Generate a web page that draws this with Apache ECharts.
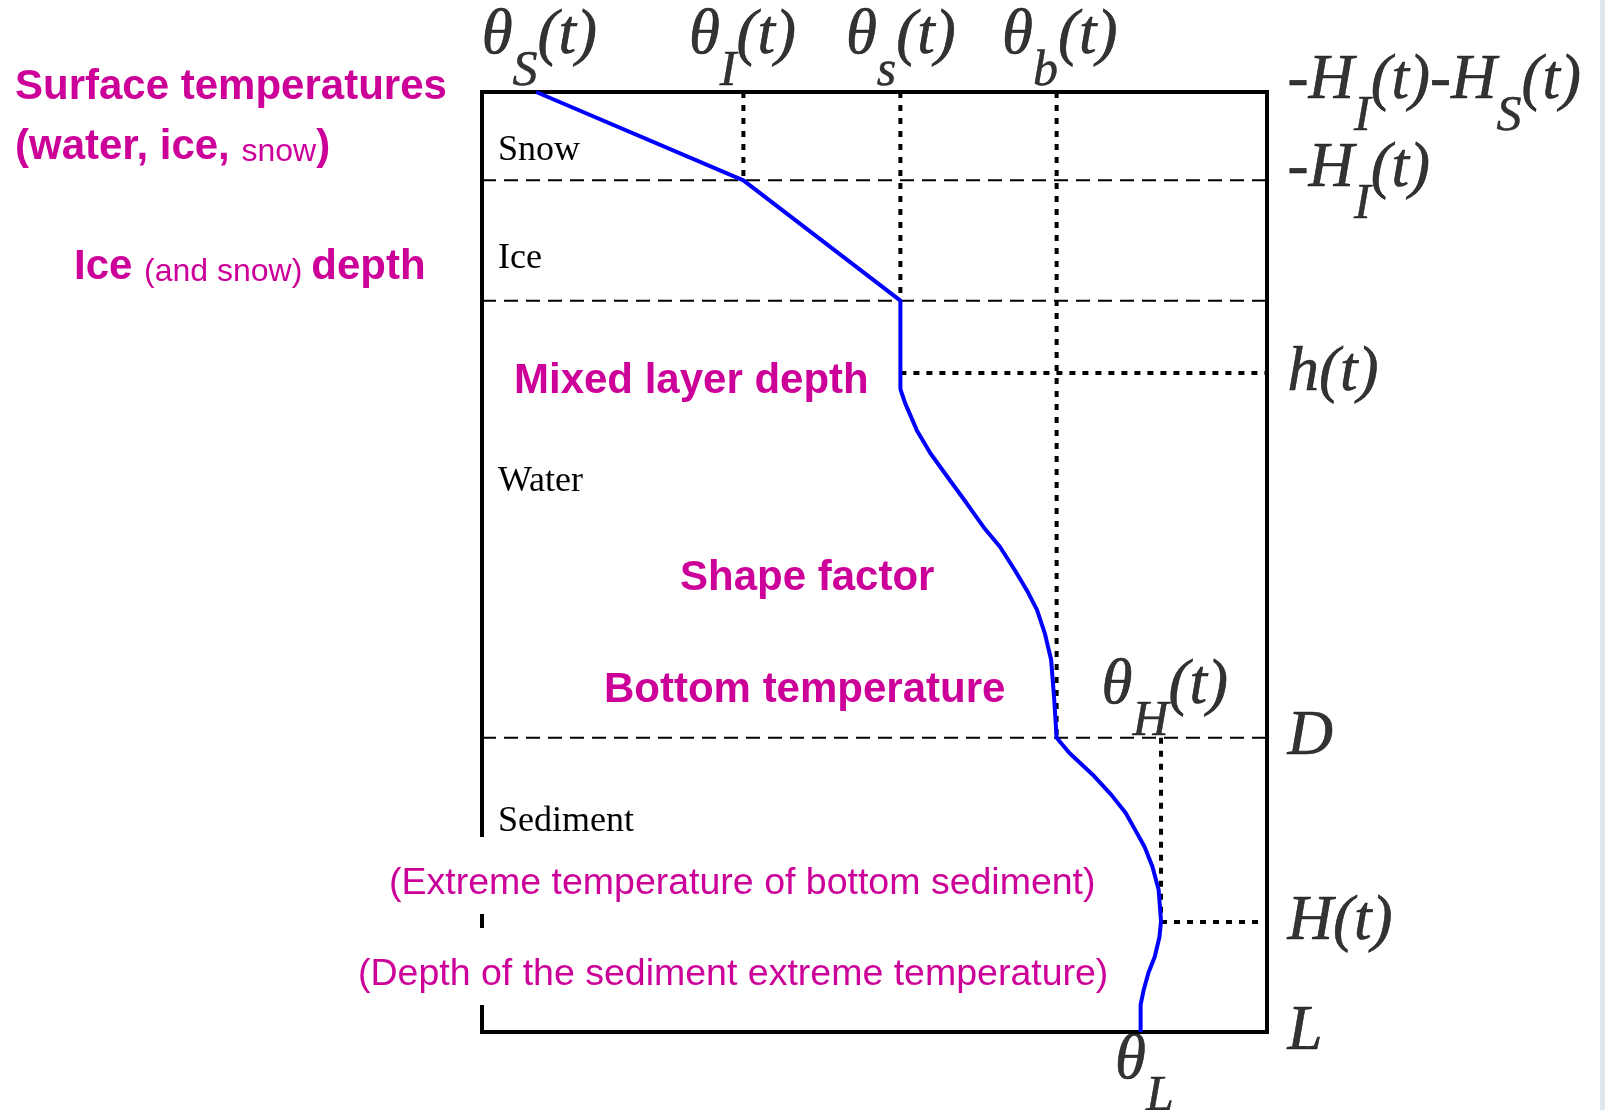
<!DOCTYPE html>
<html><head><meta charset="utf-8">
<script src="https://cdn.jsdelivr.net/npm/echarts@6/dist/echarts.min.js"></script>
<style>html,body{margin:0;padding:0;background:#fff}#c{width:1605px;height:1110px}</style>
</head><body><div id="c"></div>
<script>
// Temperature axis: arbitrary units 0..100 across the box; depth axis: 0 (snow surface) .. 100 (L)
const boundaryDepths = [9.4, 22.2, 68.7];           // snow/ice, ice/water, water/sediment (D)
const profileDepths = [0, 9.4, 22.2, 31.6, 33.1, 36.0, 38.4, 41.3, 43.7, 46.3, 48.4, 50.9, 53.0, 55.1, 57.6, 60.4, 64.7, 68.7,
                       70.3, 72.8, 74.8, 76.7, 78.5, 80.3, 82.4, 84.9, 88.2, 89.9, 92.0, 93.7, 95.5, 97.1, 100];
const profileTemps  = [6.9, 33.3, 53.3, 53.3, 53.9, 55.4, 57.1, 59.6, 61.7, 63.9, 66.0, 67.9, 69.4, 70.7, 71.7, 72.5, 72.9, 73.2,
                       74.8, 78.0, 80.2, 82.0, 83.2, 84.4, 85.4, 86.2, 86.5, 86.3, 85.7, 84.9, 84.3, 83.9, 83.9];
const topLabels = ['θ_S(t)', 'θ_I(t)', 'θ_s(t)', 'θ_b(t)'];
const topLabelTemps = [6.9, 33.3, 53.3, 73.2];
const guideTemps = [33.3, 53.3, 73.2, 86.5];        // dotted verticals θI, θs, θb, θH
const guideFrom  = [0, 0, 0, 68.7];
const guideTo    = [9.4, 22.2, 68.7, 88.3];
const levelDepths = [29.9, 88.3];                   // dotted horizontals h(t), H(t)
const levelFromTemps = [53.3, 86.5];
const rightLabels = ['-H_I(t)-H_S(t)', '-H_I(t)', 'h(t)', 'D', 'H(t)', 'L'];
const rightLabelDepths = [0, 9.4, 29.9, 68.7, 88.3, 100];
const thetaHLabel = 'θ_H(t)', thetaHPoint = [86.5, 68.7];
const thetaLLabel = 'θ_L',    thetaLPoint = [83.9, 100];
const layerNames = ['Snow', 'Ice', 'Water', 'Sediment'];

const PINK = '#CC0099';
function toRich(s) {
  return s.split(/_(.)/).map((p, i) => p === '' ? '' : (i % 2 ? '{s|' + p + '}' : '{m|' + p + '}')).join('');
}
const rich = {
  m: {fontFamily: 'Liberation Serif', fontStyle: 'italic', fontSize: 63, lineHeight: 62, verticalAlign: 'top', color: '#000',
      textBorderColor: '#000', textBorderWidth: 0.6},
  s: {fontFamily: 'Liberation Serif', fontStyle: 'italic', fontSize: 50, lineHeight: 50, padding: [42, 0, 0, 0], verticalAlign: 'top', color: '#000',
      textBorderColor: '#000', textBorderWidth: 0.5}
};
function labelSeries(points, texts, pos, vAlign) {
  return {
    type: 'scatter', symbolSize: 1, itemStyle: {color: 'rgba(0,0,0,0)'}, silent: true, z: 10,
    data: points.map((p, i) => ({value: p, name: texts[i]})),
    label: {show: true, position: pos, align: 'left', verticalAlign: vAlign, rich: rich, color: '#000',
            formatter: p => toRich(p.name)}
  };
}

const series = [];
boundaryDepths.forEach(d => series.push({
  type: 'line', symbol: 'none', silent: true, data: [[0, d], [100, d]],
  lineStyle: {color: '#000', width: 2, type: [14, 8]}
}));
guideTemps.forEach((t, i) => series.push({
  type: 'line', symbol: 'none', silent: true, data: [[t, guideFrom[i]], [t, guideTo[i]]],
  lineStyle: {color: '#000', width: 4, type: [6, 7]}
}));
levelDepths.forEach((d, i) => series.push({
  type: 'line', symbol: 'none', silent: true, data: [[levelFromTemps[i], d], [100, d]],
  lineStyle: {color: '#000', width: 4, type: [6, 7]}
}));
series.push({
  type: 'line', symbol: 'none', silent: true, z: 5,
  data: profileDepths.map((d, i) => [profileTemps[i], d]),
  lineStyle: {color: '#0000FF', width: 4}
});
series.push(labelSeries(topLabelTemps.map(t => [t, 0]), topLabels, [-54, -87], 'top'));
const subIdx = rightLabels.map((l, i) => l.includes('_') ? i : -1).filter(i => i >= 0);
const plainIdx = rightLabels.map((l, i) => l.includes('_') ? -1 : i).filter(i => i >= 0);
series.push(labelSeries(subIdx.map(i => [100, rightLabelDepths[i]]), subIdx.map(i => rightLabels[i]), [21, -42], 'top'));
series.push(labelSeries(plainIdx.map(i => [100, rightLabelDepths[i]]), plainIdx.map(i => rightLabels[i]), [21, 0], 'middle'));
series.push(labelSeries([thetaHPoint], [thetaHLabel], [-59, -82], 'top'));
series.push(labelSeries([thetaLPoint], [thetaLLabel], [-25, -2], 'top'));

const pinkBold = {fontFamily: 'Liberation Sans', fontWeight: 'bold', fontSize: 42, lineHeight: 42, fill: PINK, verticalAlign: 'bottom'};
const pinkReg = {fontFamily: 'Liberation Sans', fontSize: 32, lineHeight: 32, fill: PINK, verticalAlign: 'bottom'};
function txt(x, y, text, opts) {
  return Object.assign({type: 'text', x: x, y: y, z: 100, silent: true,
    style: Object.assign({text: text, align: 'left', verticalAlign: 'middle'}, opts)});
}
const layerY = [151, 259, 482, 822];
const graphic = [
  {type: 'rect', x: 1600, y: 0, shape: {width: 5, height: 1110}, style: {fill: '#e1e7ee'}, silent: true},
  {type: 'rect', x: 377, y: 837, z: 99, shape: {width: 728, height: 77}, style: {fill: '#fff'}, silent: true},
  {type: 'rect', x: 346, y: 928, z: 99, shape: {width: 770, height: 77}, style: {fill: '#fff'}, silent: true},
  txt(15, 87, 'Surface temperatures', {font: 'bold 42px "Liberation Sans"', fill: PINK}),
  txt(15, 147, '{b|(water, ice, }{r|snow}{b|)}', {rich: {b: pinkBold, r: pinkReg}}),
  txt(74, 267, '{b|Ice }{r|(and snow) }{b|depth}', {rich: {b: pinkBold, r: pinkReg}}),
  txt(514, 381, 'Mixed layer depth', {font: 'bold 42px "Liberation Sans"', fill: PINK}),
  txt(680, 578, 'Shape factor', {font: 'bold 42px "Liberation Sans"', fill: PINK}),
  txt(604, 690, 'Bottom temperature', {font: 'bold 42px "Liberation Sans"', fill: PINK}),
  txt(389, 884, '(Extreme temperature of bottom sediment)', {font: '37.5px "Liberation Sans"', fill: PINK}),
  txt(358, 975, '(Depth of the sediment extreme temperature)', {font: '37.5px "Liberation Sans"', fill: PINK})
].concat(layerNames.map((n, i) => txt(498, layerY[i], n, {font: '36px "Liberation Serif"', fill: '#000'})));

const chart = echarts.init(document.getElementById('c'), null, {renderer: 'canvas'});
chart.setOption({
  backgroundColor: '#fff',
  animation: false,
  grid: {left: 482, top: 92, width: 785, height: 940, show: true, borderColor: '#000', borderWidth: 4, backgroundColor: 'transparent'},
  xAxis: {type: 'value', min: 0, max: 100, show: false},
  yAxis: {type: 'value', min: 0, max: 100, inverse: true, show: false},
  series: series,
  graphic: graphic
});
</script></body></html>
